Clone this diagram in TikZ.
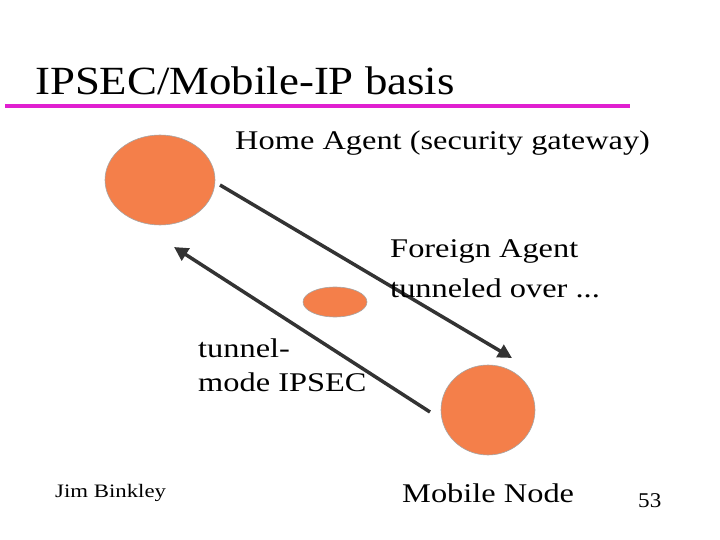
\documentclass[tikz,border=0pt]{standalone}
\usepackage{fontspec}
\setmainfont{Liberation Serif}
\definecolor{blob}{HTML}{F47F4A}
\definecolor{mag}{HTML}{E020D0}
\definecolor{arr}{HTML}{333333}
\tikzset{
 blobn/.style={draw=gray!70,line width=0.6pt,fill=blob,ellipse},
 txt/.style={anchor=base west,inner sep=0pt,xscale=1.2,font=\fontsize{27}{30}\selectfont},
 conn/.style={arr,line width=3.5pt,-{Triangle[length=14pt,width=14pt]}}
}
\usetikzlibrary{shapes.geometric,arrows.meta}
\begin{document}
\begin{tikzpicture}[x=1pt,y=-1pt]
\useasboundingbox (0,0) rectangle (720,540);
\node[anchor=base west,inner sep=0pt,xscale=1.12,font=\fontsize{40}{44}\selectfont] (title) at (35,95) {IPSEC/Mobile-IP basis};
\draw[mag,line width=4pt] (5,106) -- (630,106);
\node[txt] (ha) at (235,150) {Home Agent (security gateway)};
\draw[blobn] (160,180) ellipse [x radius=55,y radius=45];
\draw[blobn] (335,302) ellipse [x radius=32,y radius=15];
\draw[blobn] (488,410) ellipse [x radius=47,y radius=45];
\coordinate (a1) at (220,185); \coordinate (b1) at (512,358);
\coordinate (a2) at (430,412); \coordinate (b2) at (174,247);
\draw[conn] (a1) -- (b1);
\draw[conn] (a2) -- (b2);
\node[txt] (fa1) at (390,257) {Foreign Agent};
\node[txt] (fa2) at (390,297) {tunneled over ...};
\node[txt] (t1) at (198,357) {tunnel-};
\node[txt] (t2) at (198,391) {mode IPSEC};
\node[anchor=base west,inner sep=0pt,xscale=1.2,font=\fontsize{19}{22}\selectfont] (jb) at (55,497) {Jim Binkley};
\node[txt] (mn) at (402,502) {Mobile Node};
\node[anchor=base west,inner sep=0pt,xscale=1.1,font=\fontsize{21}{24}\selectfont] (pg) at (638,507) {53};
\end{tikzpicture}
\end{document}
